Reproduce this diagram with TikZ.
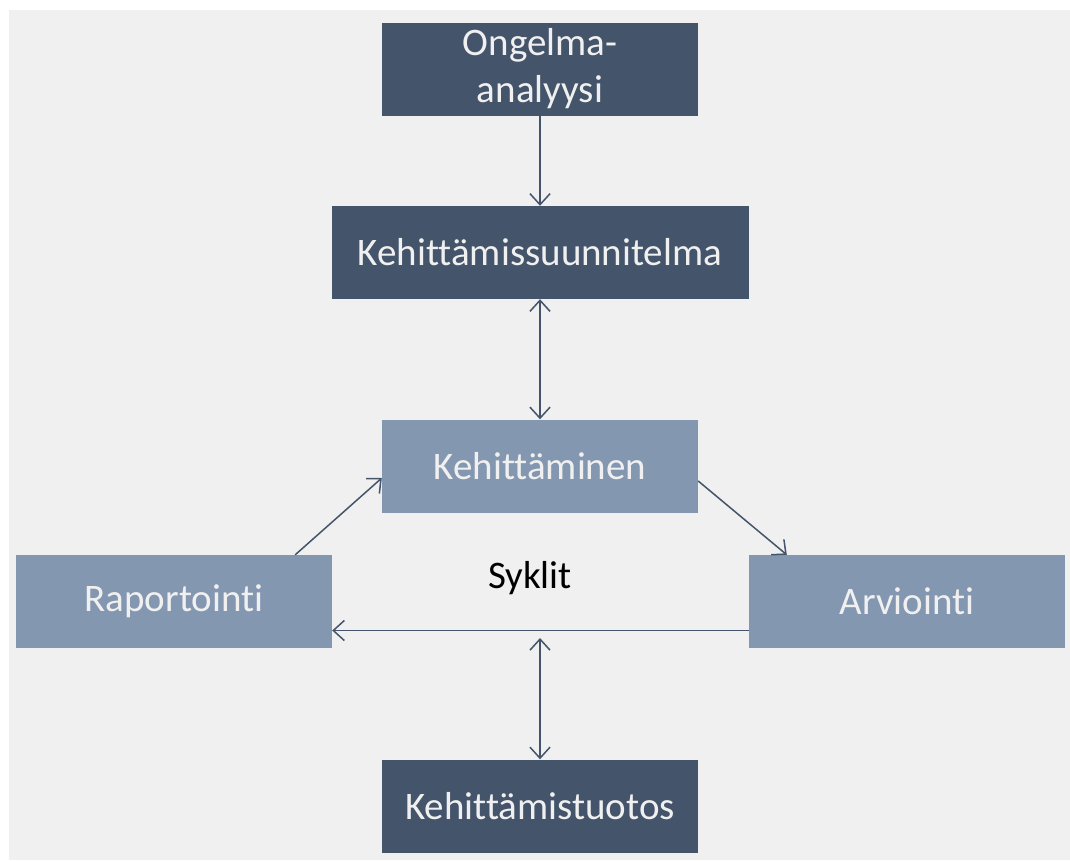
\documentclass[tikz,border=0pt]{standalone}
\usepackage{fontspec}
\setmainfont{Carlito}[Ligatures=NoCommon]
\usetikzlibrary{arrows.meta}
\definecolor{darkbox}{HTML}{44546A}
\definecolor{lightbox}{HTML}{8497B0}
\definecolor{paper}{HTML}{F0F0F0}

\begin{document}
\begin{tikzpicture}[x=1pt, y=-1pt,
  box/.style={fill=#1, text=paper, align=center, inner sep=0pt,
              font=\fontsize{39}{47}\selectfont,
              minimum width=316pt, minimum height=93pt},
  box/.default=darkbox,
  arr/.style={-{Straight Barb[length=11pt,width=20pt]}, line width=1.5pt, draw=darkbox},
  dbl/.style={arr, {Straight Barb[length=11pt,width=20pt]}-{Straight Barb[length=11pt,width=20pt]}}]

\useasboundingbox (0,0) rectangle (1070,860);
\fill[paper] (9,10) rectangle (1070,860);

\node[box] (ongelma) at (540,69) {Ongelma-\\analyysi};
\node[box, minimum width=417pt] (suunn) at (540,252.5) {Kehittämissuunnitelma};
\node[box=lightbox] (kehit) at (540,466) {Kehittäminen};
\node[box=lightbox] (rap) at (174,601.5) {Raportointi};
\node[box=lightbox] (arv) at (907,601.5) {Arviointi};
\node[box] (tuotos) at (540,806) {Kehittämistuotos};
\node[font=\fontsize{39}{47}\selectfont] (syklit) at (530,578) {Syklit};
\coordinate (risti) at (540,638);

\draw[arr] (ongelma) -- (suunn);
\draw[dbl] (suunn) -- (kehit);
\draw[arr] ([xshift=-37pt]rap.north east) -- ([yshift=-12pt]kehit.west);
\draw[arr] ([yshift=-15pt]kehit.east) -- ([xshift=38pt]arv.north west);
\draw[arr] ([yshift=-29pt]arv.west) -- ([yshift=-29pt]rap.east);
\draw[dbl] (risti) -- (tuotos);
\end{tikzpicture}
\end{document}
